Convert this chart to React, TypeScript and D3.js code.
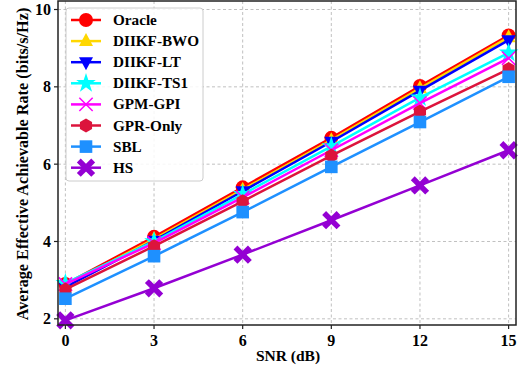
import React from "react";
import * as d3 from "d3";

const snr = [0, 3, 6, 9, 12, 15];
const xTicks = [0, 3, 6, 9, 12, 15];
const yTicks = [2, 4, 6, 8, 10];

const seriesNames = ["Oracle", "DIIKF-BWO", "DIIKF-LT", "DIIKF-TS1", "GPM-GPI", "GPR-Only", "SBL", "HS"];
const oracle = [2.9, 4.12, 5.4, 6.68, 8.02, 9.33];
const diikfBwo = [2.86, 4.06, 5.34, 6.62, 7.96, 9.28];
const diikfLt = [2.82, 4.02, 5.3, 6.58, 7.9, 9.21];
const diikfTs1 = [2.92, 4.0, 5.22, 6.46, 7.72, 8.88];
const gpmGpi = [2.9, 3.96, 5.14, 6.36, 7.58, 8.74];
const gprOnly = [2.76, 3.88, 5.04, 6.22, 7.36, 8.46];
const sbl = [2.52, 3.62, 4.76, 5.93, 7.09, 8.26];
const hs = [1.96, 2.79, 3.66, 4.55, 5.45, 6.36];

const seriesValues = [oracle, diikfBwo, diikfLt, diikfTs1, gpmGpi, gprOnly, sbl, hs];
const colors = ["#FF0000", "#FFD700", "#0000FF", "#00FFFF", "#FF00FF", "#DC143C", "#1E90FF", "#9400D3"];
const markers = ["circle", "triUp", "triDown", "star", "x", "hex", "square", "xFilled"];

const W = 526, H = 376;
const left = 58, right = 516, top = 1, bottom = 325;

const xScale = d3.scaleLinear().domain([-0.25, 15.25]).range([left, right]);
const yScale = d3.scaleLinear().domain([1.84, 10.22]).range([bottom, top]);

function Marker({ type, x, y, color, s = 1 }: { type: string; x: number; y: number; color: string; s?: number }) {
  const r = 7 * s;
  switch (type) {
    case "circle":
      return <circle cx={x} cy={y} r={r} fill={color} />;
    case "triUp": {
      const p = [[0, -r * 1.15], [r, r * 0.7], [-r, r * 0.7]];
      return <polygon points={p.map(q => `${x + q[0]},${y + q[1]}`).join(" ")} fill={color} />;
    }
    case "triDown": {
      const p = [[0, r * 1.15], [r, -r * 0.7], [-r, -r * 0.7]];
      return <polygon points={p.map(q => `${x + q[0]},${y + q[1]}`).join(" ")} fill={color} />;
    }
    case "star": {
      const path = d3.symbol(d3.symbolStar, 120 * s * s)();
      return <path d={path || ""} transform={`translate(${x},${y})`} fill={color} />;
    }
    case "x": {
      const a = r * 0.95;
      return (
        <g stroke={color} strokeWidth={1.5}>
          <line x1={x - a} y1={y - a} x2={x + a} y2={y + a} />
          <line x1={x - a} y1={y + a} x2={x + a} y2={y - a} />
        </g>
      );
    }
    case "hex": {
      const pts = d3.range(6).map(i => {
        const ang = (Math.PI / 3) * i - Math.PI / 2;
        return `${x + r * Math.cos(ang)},${y + r * Math.sin(ang)}`;
      });
      return <polygon points={pts.join(" ")} fill={color} />;
    }
    case "square":
      return <rect x={x - r * 0.9} y={y - r * 0.9} width={r * 1.8} height={r * 1.8} fill={color} />;
    case "xFilled": {
      const a = r * 0.75;
      return (
        <g stroke={color} strokeWidth={5.5} strokeLinecap="square">
          <line x1={x - a} y1={y - a} x2={x + a} y2={y + a} />
          <line x1={x - a} y1={y + a} x2={x + a} y2={y - a} />
        </g>
      );
    }
  }
  return null;
}

export default function App() {
  const line = d3.line<number>().x((_, i) => xScale(snr[i])).y(d => yScale(d));
  const font = "'Liberation Serif', 'Times New Roman', serif";
  const legX = 66, legY = 8, legW = 137, legH = 173, legStep = 21.1;
  return (
    <svg width={W} height={H} style={{ position: "absolute", left: 0, top: 0 }} fontFamily={font}>
      <rect width={W} height={H} fill="#fff" />
      {/* grid */}
      <g stroke="#b0b0b0" strokeWidth={0.8} strokeDasharray="3,2.5">
        {xTicks.map(t => (
          <line key={"gx" + t} x1={xScale(t)} x2={xScale(t)} y1={top} y2={bottom} />
        ))}
        {yTicks.map(t => (
          <line key={"gy" + t} x1={left} x2={right} y1={yScale(t)} y2={yScale(t)} />
        ))}
      </g>
      {/* series */}
      {seriesValues.map((vals, si) => (
        <g key={seriesNames[si]}>
          <path d={line(vals) || ""} fill="none" stroke={colors[si]} strokeWidth={2.5} />
          {vals.map((v, i) => (
            <Marker key={i} type={markers[si]} x={xScale(snr[i])} y={yScale(v)} color={colors[si]} />
          ))}
        </g>
      ))}
      {/* spines */}
      <rect x={left} y={top} width={right - left} height={bottom - top} fill="none" stroke="#222" strokeWidth={1.5} />
      {/* ticks */}
      {xTicks.map(t => (
        <g key={"xt" + t}>
          <line x1={xScale(t)} x2={xScale(t)} y1={bottom} y2={bottom + 4} stroke="#222" strokeWidth={1.2} />
          <text x={xScale(t)} y={bottom + 21} textAnchor="middle" fontSize={16} fontWeight="bold">{t}</text>
        </g>
      ))}
      {yTicks.map(t => (
        <g key={"yt" + t}>
          <line x1={left - 4} x2={left} y1={yScale(t)} y2={yScale(t)} stroke="#222" strokeWidth={1.2} />
          <text x={left - 7} y={yScale(t) + 5.5} textAnchor="end" fontSize={16} fontWeight="bold">{t}</text>
        </g>
      ))}
      <text x={(left + right) / 2 + 1} y={361} textAnchor="middle" fontSize={15.5} fontWeight="bold">SNR (dB)</text>
      <text transform={`translate(28,${164}) rotate(-90)`} textAnchor="middle" fontSize={16.2} fontWeight="bold">
        Average Effective Achievable Rate (bits/s/Hz)
      </text>
      {/* legend */}
      <rect x={legX} y={legY} width={legW} height={legH} rx={3} fill="#fff" fillOpacity={0.85} stroke="#ccc" strokeWidth={1} />
      {seriesNames.map((n, i) => {
        const cy = legY + 12 + i * legStep;
        return (
          <g key={"leg" + n}>
            <line x1={71} x2={101} y1={cy} y2={cy} stroke={colors[i]} strokeWidth={2.5} />
            <Marker type={markers[i]} x={86} y={cy} color={colors[i]} />
            <text x={113} y={cy + 5} fontSize={15.2} fontWeight="bold">{n}</text>
          </g>
        );
      })}
    </svg>
  );
}
